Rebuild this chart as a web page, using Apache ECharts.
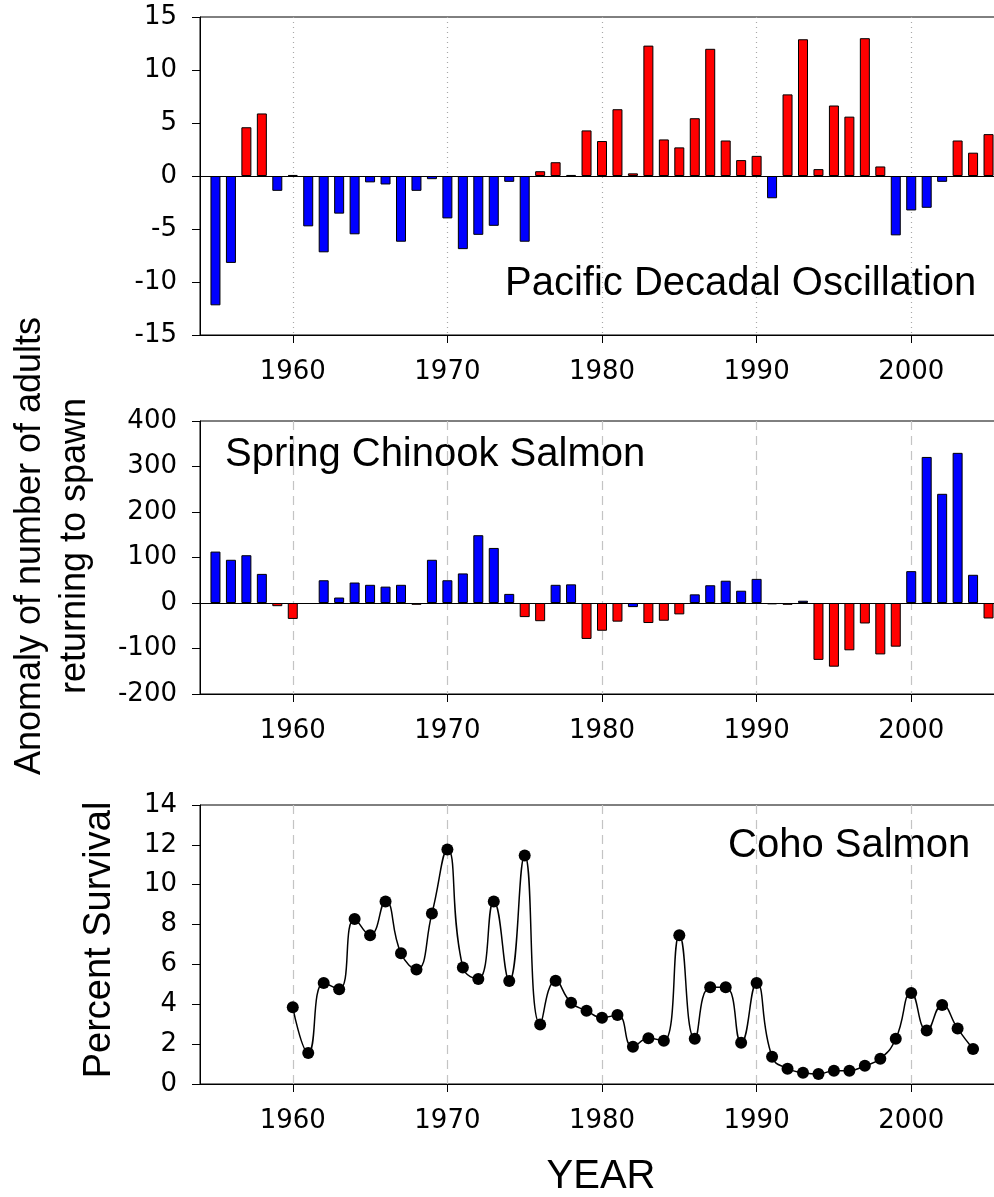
<!DOCTYPE html>
<html><head><meta charset="utf-8">
<script src="https://cdn.jsdelivr.net/npm/echarts@6/dist/echarts.min.js"></script>
<style>html,body{margin:0;padding:0;overflow:hidden;background:#fff;width:994px;height:1197px}#main{width:1004px;height:1197px}</style>
</head><body><div id="main"></div>
<script>
// ---- data ----
const pdoYears = [1955,1956,1957,1958,1959,1960,1961,1962,1963,1964,1965,1966,1967,1968,1969,1970,1971,1972,1973,1974,1975,1976,1977,1978,1979,1980,1981,1982,1983,1984,1985,1986,1987,1988,1989,1990,1991,1992,1993,1994,1995,1996,1997,1998,1999,2000,2001,2002,2003,2004,2005];
const pdoValues = [-12.2,-8.2,4.6,5.9,-1.4,0.1,-4.75,-7.2,-3.55,-5.5,-0.6,-0.8,-6.2,-1.4,-0.3,-4.0,-6.9,-5.55,-4.7,-0.55,-6.2,0.45,1.3,0.1,4.3,3.3,6.3,0.25,12.3,3.45,2.7,5.45,12.0,3.35,1.5,1.9,-2.1,7.7,12.9,0.65,6.65,5.6,13.0,0.9,-5.6,-3.25,-3.0,-0.55,3.35,2.2,3.95];

const chinookYears = [1955,1956,1957,1958,1959,1960,1961,1962,1963,1964,1965,1966,1967,1968,1969,1970,1971,1972,1973,1974,1975,1976,1977,1978,1979,1980,1981,1982,1983,1984,1985,1986,1987,1988,1989,1990,1991,1992,1993,1994,1995,1996,1997,1998,1999,2000,2001,2002,2003,2004,2005];
const chinookValues = [113,95,105,64,-7,-35,null,50,12,45,40,36,40,-4,95,50,65,149,121,20,-31,-40,40,41,-79,-61,-41,-9,-44,-39,-25,19,39,49,27,53,-3,-4,5,-125,-140,-104,-45,-113,-96,70,321,240,330,62,-34];
const chinookBlueNegativeYears = [1982];

const cohoYears = [1960,1961,1962,1963,1964,1965,1966,1967,1968,1969,1970,1971,1972,1973,1974,1975,1976,1977,1978,1979,1980,1981,1982,1983,1984,1985,1986,1987,1988,1989,1990,1991,1992,1993,1994,1995,1996,1997,1998,1999,2000,2001,2002,2003,2004];
const cohoValues = [3.85,1.56,5.07,4.75,8.28,7.47,9.16,6.56,5.75,8.56,11.77,5.85,5.27,9.16,5.17,11.47,2.99,5.18,4.08,3.68,3.33,3.46,1.87,2.29,2.17,7.46,2.27,4.85,4.85,2.07,5.07,1.37,0.77,0.57,0.5,0.67,0.67,0.92,1.27,2.27,4.57,2.68,3.96,2.78,1.76];

const decadeTicks = [1960,1970,1980,1990,2000];

// ---- styling ----
const RED = '#FF0000', BLUE = '#0000FF';
const TICK_FONT = 'DejaVu Sans';
const TEXT_FONT = '"Liberation Sans", Arial, sans-serif';
const X_MIN = 1954, X_MAX = 2006;

function labelXAxis(gi, splitType, splitColor) {
  return {
    type: 'value', gridIndex: gi, min: X_MIN, max: X_MAX, position: 'bottom',
    axisLine: {show: true, onZero: false, lineStyle: {color: '#000', width: 1}},
    axisTick: {show: true, inside: false, length: 8, customValues: decadeTicks, lineStyle: {color: '#000', width: 1}},
    axisLabel: {show: true, customValues: decadeTicks, formatter: v => String(v), margin: 24,
      color: '#000', fontFamily: TICK_FONT, fontSize: 26},
    splitLine: {show: true, lineStyle: {color: splitColor, width: 1.2, type: splitType}}
  };
}
function zeroXAxis(gi) {
  return {
    type: 'value', gridIndex: gi, min: X_MIN, max: X_MAX, position: 'top',
    axisLine: {show: true, onZero: true, lineStyle: {color: '#000', width: 1}},
    axisTick: {show: false}, axisLabel: {show: false}, splitLine: {show: false}
  };
}
function yAx(gi, min, max, interval) {
  return {
    type: 'value', gridIndex: gi, min, max, interval,
    axisLine: {show: true, onZero: false, lineStyle: {color: '#000', width: 1}},
    axisTick: {show: true, inside: false, length: 8, lineStyle: {color: '#000', width: 1}},
    axisLabel: {margin: 23, color: '#000', fontFamily: TICK_FONT, fontSize: 26},
    splitLine: {show: false}
  };
}

const pdoData = pdoYears.map((y, i) => ({
  value: [y, pdoValues[i]],
  itemStyle: {color: pdoValues[i] >= 0 ? RED : BLUE}
}));
const chinookData = chinookYears.map((y, i) => {
  const v = chinookValues[i];
  if (v === null) return {value: [y, null]};
  const blue = v >= 0 || chinookBlueNegativeYears.includes(y);
  return {value: [y, v], itemStyle: {color: blue ? BLUE : RED}};
});
const cohoData = cohoYears.map((y, i) => [y, cohoValues[i]]);

const gridBase = {left: 200, right: 0, show: true, borderColor: '#000', borderWidth: 1, backgroundColor: 'transparent'};

const option = {
  animation: false,
  backgroundColor: '#fff',
  grid: [
    Object.assign({top: 17, height: 318}, gridBase),
    Object.assign({top: 421, height: 273}, gridBase),
    Object.assign({top: 805, height: 279}, gridBase)
  ],
  xAxis: [
    labelXAxis(0, [1, 4], '#a8a8a8'),
    zeroXAxis(0),
    labelXAxis(1, [9, 6], '#c4c4c4'),
    zeroXAxis(1),
    labelXAxis(2, [9, 6], '#c4c4c4')
  ],
  yAxis: [
    yAx(0, -15, 15, 5),
    yAx(1, -200, 400, 100),
    yAx(2, 0, 14, 2)
  ],
  series: [
    {type: 'bar', xAxisIndex: 0, yAxisIndex: 0, barWidth: 10, data: pdoData,
      itemStyle: {borderColor: '#000', borderWidth: 1}},
    {type: 'bar', xAxisIndex: 2, yAxisIndex: 1, barWidth: 10, data: chinookData,
      itemStyle: {borderColor: '#000', borderWidth: 1}},
    {type: 'line', xAxisIndex: 4, yAxisIndex: 2, data: cohoData, smooth: 0.5,
      symbol: 'circle', symbolSize: 12, showSymbol: true,
      itemStyle: {color: '#000'}, lineStyle: {color: '#000', width: 1.5}}
  ],
  graphic: [
    {type: 'text', x: 505, y: 284, style: {text: 'Pacific Decadal Oscillation', fill: '#000', font: '40px ' + TEXT_FONT, textAlign: 'left', textVerticalAlign: 'middle'}},
    {type: 'text', x: 225, y: 455, style: {text: 'Spring Chinook Salmon', fill: '#000', font: '40px ' + TEXT_FONT, textAlign: 'left', textVerticalAlign: 'middle'}},
    {type: 'text', x: 728, y: 846, style: {text: 'Coho Salmon', fill: '#000', font: '40px ' + TEXT_FONT, textAlign: 'left', textVerticalAlign: 'middle'}},
    {type: 'text', x: 601, y: 1177, style: {text: 'YEAR', fill: '#000', font: '40px ' + TEXT_FONT, textAlign: 'center', textVerticalAlign: 'middle'}},
    {type: 'text', x: 30, y: 546, rotation: Math.PI / 2, style: {text: 'Anomaly of number of adults', fill: '#000', font: '36px ' + TEXT_FONT, textAlign: 'center', textVerticalAlign: 'middle'}},
    {type: 'text', x: 75, y: 546, rotation: Math.PI / 2, style: {text: 'returning to spawn', fill: '#000', font: '36px ' + TEXT_FONT, textAlign: 'center', textVerticalAlign: 'middle'}},
    {type: 'text', x: 100, y: 940, rotation: Math.PI / 2, style: {text: 'Percent Survival', fill: '#000', font: '38px ' + TEXT_FONT, textAlign: 'center', textVerticalAlign: 'middle'}}
  ]
};

const chart = echarts.init(document.getElementById('main'), null, {renderer: 'canvas'});
chart.setOption(option);
</script>
</body></html>
